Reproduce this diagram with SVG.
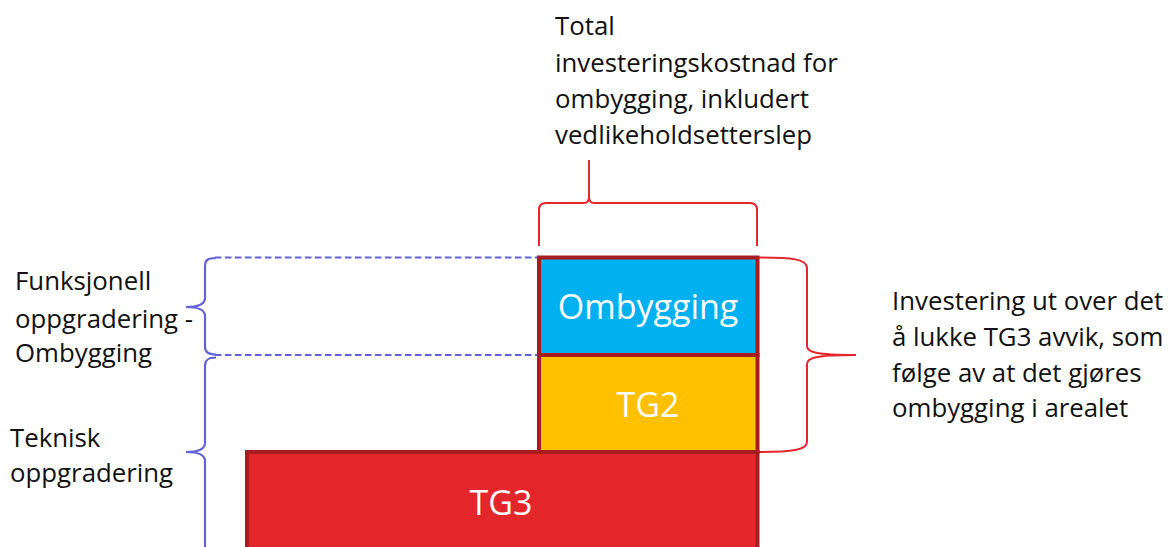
<svg xmlns="http://www.w3.org/2000/svg" width="1170" height="547" viewBox="0 0 1170 547">
  <style>
    .note { font-family: "Open Sans", "Liberation Sans", sans-serif; font-size: 25.8px; fill: #111111; }
    .lbl { font-family: "Open Sans", "Liberation Sans", sans-serif; font-size: 34px; fill: #ffffff; text-anchor: middle; }
    .box { stroke: #A81C20; stroke-width: 4; }
    .brace-red { fill: none; stroke: #E3272C; stroke-width: 2; }
    .brace-blue { fill: none; stroke: #6262D8; stroke-width: 2.2; }
    .dash { fill: none; stroke: #6262D8; stroke-width: 2; stroke-dasharray: 6.5 3.5; }
  </style>
  <rect width="1170" height="547" fill="#ffffff"/>

  <g id="connectors">
    <path class="dash" d="M215,257.5 L539,257.5"/>
    <path class="dash" d="M215,355 L539,355"/>
    <path id="brace-top" class="brace-red" d="M539,246 L539,210 Q539,203 546,203 L584,203 Q589,203 589,197 L589,160 M589,197 Q589,203 594,203 L750,203 Q757,203 757,210 L757,246"/>
    <path id="brace-right" class="brace-red" d="M758,257.5 C792,257.5 807,259 807,268 L807,346 C807,352 815,355 856,355 C815,355 807,358 807,364 L807,442 C807,450 792,452 758,452"/>
    <path id="brace-left-upper" class="brace-blue" d="M216,258 C208,258 205,260 205,266 L205,298 C205,304 200,307 186,307 C200,307 205,310 205,316 L205,347 C205,352 208,354.5 216,354.5"/>
    <path id="brace-left-lower" class="brace-blue" d="M216,357.5 C208,357.5 205,360 205,366 L205,443 C205,449 200,452 186,452 C200,452 205,455 205,461 L205,547"/>
  </g>

  <g id="node-tg3">
    <rect class="box" x="247" y="452" width="510.5" height="120" fill="#E3262A"/>
    <text class="lbl" x="501" y="514.5">TG3</text>
  </g>
  <g id="node-tg2">
    <rect class="box" x="539" y="355" width="218.5" height="97" fill="#FFC000"/>
    <text class="lbl" x="648" y="416.5">TG2</text>
  </g>
  <g id="node-ombygging">
    <rect class="box" x="539" y="257.5" width="218.5" height="97.5" fill="#00B0F0"/>
    <text class="lbl" x="648" y="318.5">Ombygging</text>
  </g>

  <g id="label-total">
    <text class="note" x="555" y="35">Total</text>
    <text class="note" x="555" y="72">investeringskostnad for</text>
    <text class="note" x="555" y="108">ombygging, inkludert</text>
    <text class="note" x="555" y="144">vedlikeholdsetterslep</text>
  </g>
  <g id="label-investering">
    <text class="note" x="892" y="310">Investering ut over det</text>
    <text class="note" x="892" y="346">å lukke TG3 avvik, som</text>
    <text class="note" x="892" y="382">følge av at det gjøres</text>
    <text class="note" x="892" y="417">ombygging i arealet</text>
  </g>
  <g id="label-funksjonell">
    <text class="note" x="15" y="290">Funksjonell</text>
    <text class="note" x="15" y="327.5">oppgradering -</text>
    <text class="note" x="15" y="362">Ombygging</text>
  </g>
  <g id="label-teknisk">
    <text class="note" x="10" y="447">Teknisk</text>
    <text class="note" x="10" y="482">oppgradering</text>
  </g>
</svg>
